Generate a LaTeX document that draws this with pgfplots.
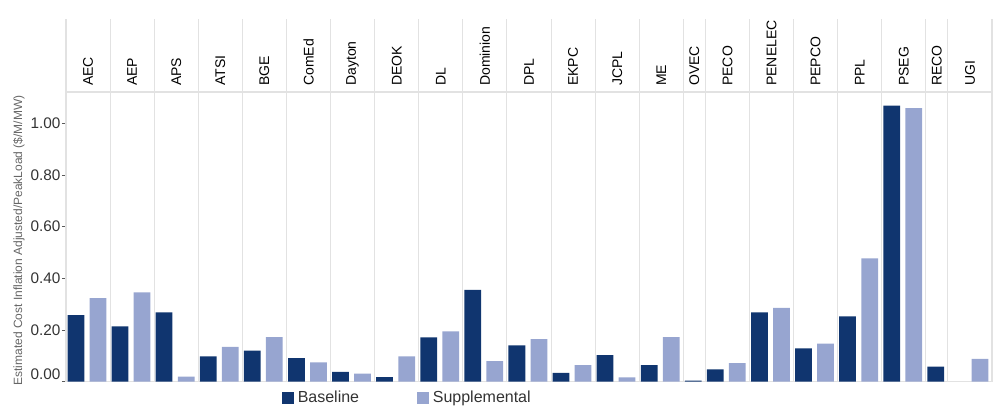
\documentclass[border=0pt]{standalone}
\usepackage{fontspec}
\setmainfont{Liberation Sans}
\usepackage{pgfplots}
\pgfplotsset{compat=1.18}

\definecolor{base}{HTML}{10356F}
\definecolor{supp}{HTML}{97A5D0}
\definecolor{gridc}{HTML}{E2E2E2}
\definecolor{tickc}{HTML}{333333}

\begin{document}
\begin{tikzpicture}
\begin{axis}[
    name=a,
    scale only axis,
    width=694.5pt, height=217.3pt,
    xmin=0, xmax=42,
    ymin=0, ymax=1.121,
    clip=false,
    axis line style={gridc, line width=0.8pt},
    xtick={1,3,5,7,9,11,13,15,17,19,21,23,25,27,28.5,30,32,34,36,38,39.5,41},
    xticklabels={AEC,AEP,APS,ATSI,BGE,ComEd,Dayton,DEOK,DL,Dominion,DPL,EKPC,JCPL,ME,OVEC,PECO,PENELEC,PEPCO,PPL,PSEG,RECO,UGI},
    xticklabel pos=upper,
    x tick label style={rotate=90, anchor=west, font=\fontsize{10.5}{12}\selectfont, text=black, inner sep=1.5pt},
    major x tick style={draw=none},
    ytick={0.2,0.4,0.6,0.8,1.0},
    extra y ticks={0},
    extra y tick style={yticklabel style={yshift=6pt}},
    ytick pos=left,
    tick align=outside,
    major tick length=3pt,
    major y tick style={gray!70!black, line width=0.5pt},
    y tick label style={font=\fontsize{11.5}{13}\selectfont, text=tickc, inner sep=1pt},
    /pgf/number format/assume math mode=true,
    yticklabel={\pgfmathprintnumber[fixed, fixed zerofill, precision=2]{\tick}},
    ylabel={Estimated Cost Inflation Adjusted/PeakLoad (\$/M/MW)},
    every axis y label/.style={at={(axis description cs:-0.0508,0.4875)}, anchor=center, rotate=90,
        font=\fontsize{9}{10}\selectfont, text=gray!80!black},
    legend columns=2,
    legend style={at={(axis description cs:0.233,-0.056)}, anchor=west, draw=none, fill=none,
        inner sep=0pt, font=\fontsize{12}{14}\selectfont, text=tickc,
        nodes={inner sep=1.5pt},
        /tikz/every odd column/.append style={column sep=1.5pt},
        /tikz/every even column/.append style={column sep=42pt}},
    legend image code/.code={\fill[#1] (0pt,-4.4pt) rectangle (8.8pt,4.4pt);},
]

% panel separators, running up through the header band
\pgfplotsinvokeforeach{0,2,4,6,8,10,12,14,16,18,20,22,24,26,28,29,31,33,35,37,39,40,42}{
    \draw[gridc, line width=0.8pt] (axis cs:#1,0) -- (axis cs:#1,1.402);
}

% Baseline
\addplot[ybar, bar width=0.76, bar shift=-0.05, fill=base, draw=none] coordinates {
    (0.5,0.258) (2.5,0.214) (4.5,0.268) (6.5,0.098) (8.5,0.120) (10.5,0.091)
    (12.5,0.038) (14.5,0.018) (16.5,0.172) (18.5,0.355) (20.5,0.141) (22.5,0.034)
    (24.5,0.103) (26.5,0.064) (28.5,0.004) (29.5,0.048) (31.5,0.268) (33.5,0.129)
    (35.5,0.253) (37.5,1.068) (39.5,0.058)
};
\addlegendentry{Baseline}

% Supplemental
\addplot[ybar, bar width=0.76, bar shift=-0.05, fill=supp, draw=none] coordinates {
    (1.5,0.323) (3.5,0.346) (5.5,0.020) (7.5,0.135) (9.5,0.173) (11.5,0.075)
    (13.5,0.031) (15.5,0.098) (17.5,0.195) (19.5,0.080) (21.5,0.165) (23.5,0.064)
    (25.5,0.017) (27.5,0.173) (30.5,0.072) (32.5,0.286) (34.5,0.147)
    (36.5,0.477) (38.5,1.059) (41.5,0.088)
};
\addlegendentry{Supplemental}

\end{axis}
\pgfresetboundingbox
\path ([xshift=-49.5pt,yshift=-22.7pt]a.south west) rectangle ([xshift=6pt,yshift=69pt]a.north east);
\end{tikzpicture}
\end{document}
